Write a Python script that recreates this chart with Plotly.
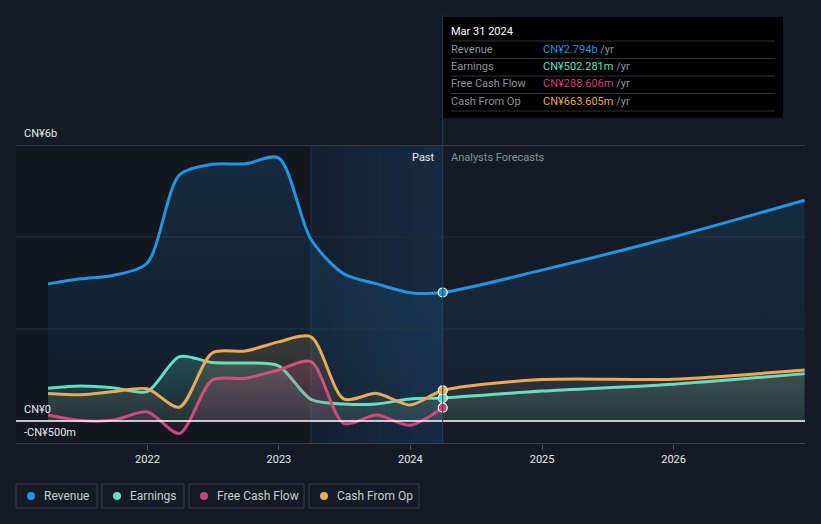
import plotly.graph_objects as go
import pandas as pd

# ---------------- data ----------------
past_dates = ["2021-03-31", "2021-06-30", "2021-09-30", "2021-12-31",
              "2022-03-31", "2022-06-30", "2022-09-30", "2022-12-31",
              "2023-03-31", "2023-06-30", "2023-09-30", "2023-12-31",
              "2024-03-31"]
fc_dates = ["2024-12-31", "2025-12-31", "2026-12-31"]

revenue_past = [2.98, 3.09, 3.17, 3.43, 5.35, 5.58, 5.59, 5.72, 3.95, 3.20, 2.98, 2.79, 2.794]
revenue_fc = [3.28, 4.00, 4.80]
earnings_past = [0.71, 0.76, 0.72, 0.64, 1.40, 1.27, 1.26, 1.20, 0.47, 0.37, 0.37, 0.48, 0.502]
earnings_fc = [0.65, 0.80, 1.03]
fcf_past = [0.13, 0.01, 0.02, 0.20, -0.27, 0.89, 0.93, 1.11, 1.29, -0.05, 0.13, -0.09, 0.289]
cfo_past = [0.60, 0.57, 0.64, 0.70, 0.30, 1.48, 1.52, 1.72, 1.83, 0.48, 0.60, 0.35, 0.664]
cfo_fc = [0.90, 0.91, 1.11]

series_names = ["Revenue", "Earnings", "Free Cash Flow", "Cash From Op"]
series_colors = ["#2394df", "#5fe0c6", "#c9457f", "#e8a95a"]
tooltip_values = ["CN¥2.794b", "CN¥502.281m", "CN¥288.606m", "CN¥663.605m"]
y_ticks = [6, 0, -0.5]
y_tick_labels = ["CN¥6b", "CN¥0", "-CN¥500m"]
x_ticks = ["2022-01-01", "2023-01-01", "2024-01-01", "2025-01-01", "2026-01-01"]
x_tick_labels = ["2022", "2023", "2024", "2025", "2026"]
past_start = "2023-03-31"
now_date = "2024-03-31"
x_range = ["2021-01-01", "2027-01-01"]
y_range = [-0.5, 6]

BG = "#151b26"
FONT = "Roboto"

def rgba(hexc, a):
    h = hexc.lstrip("#")
    r, g, b = int(h[0:2], 16), int(h[2:4], 16), int(h[4:6], 16)
    return f"rgba({r},{g},{b},{a})"

fig = go.Figure()

data = [
    (past_dates + fc_dates, revenue_past + revenue_fc, 0.16, 0.04),
    (past_dates + fc_dates, earnings_past + earnings_fc, 0.22, 0.08),
    (past_dates, fcf_past, 0.25, 0.08),
    (past_dates + fc_dates, cfo_past + cfo_fc, 0.18, 0.06),
]

for (xs, ys, atop, abot), name, col in zip(data, series_names, series_colors):
    fig.add_trace(go.Scatter(
        x=xs, y=ys, mode="lines", name=name,
        line=dict(color=col, width=3, shape="spline", smoothing=0.8),
        fill="tozeroy",
        fillgradient=dict(type="vertical",
                          colorscale=[[0, rgba(col, abot)], [1, rgba(col, atop)]]),
        hoverinfo="skip", showlegend=False,
    ))

# markers at current date
now_vals = [revenue_past[-1], earnings_past[-1], fcf_past[-1], cfo_past[-1]]
for v, col in zip(now_vals, series_colors):
    fig.add_trace(go.Scatter(
        x=[now_date], y=[v], mode="markers",
        marker=dict(color=col, size=9, line=dict(color="white", width=1.2)),
        hoverinfo="skip", showlegend=False,
    ))

shapes = []
# darker region before past year
shapes.append(dict(type="rect", xref="x", yref="paper", x0=x_range[0], x1=past_start,
                   y0=0, y1=1, fillcolor="rgba(0,0,0,0.13)", line_width=0, layer="below"))
# past-year highlight band (gradient via strips)
p0 = pd.Timestamp(past_start)
p1 = pd.Timestamp(now_date)
n = 12
for i in range(n):
    a = p0 + (p1 - p0) * i / n
    b = p0 + (p1 - p0) * (i + 1) / n
    shapes.append(dict(type="rect", xref="x", yref="paper", x0=a, x1=b, y0=0, y1=1,
                       fillcolor=f"rgba(30,110,180,{0.07 + 0.13 * i / (n - 1):.3f})",
                       line_width=0, layer="below"))
shapes.append(dict(type="line", xref="x", yref="paper", x0=past_start, x1=past_start,
                   y0=0, y1=1, line=dict(color="rgba(60,100,140,0.35)", width=1), layer="below"))
# gridlines
for gy, gc in [(6, "#4a4f58"), (4, "#262c36"), (2, "#262c36")]:
    shapes.append(dict(type="line", xref="paper", yref="y", x0=0, x1=1, y0=gy, y1=gy,
                       line=dict(color=gc, width=1), layer="below"))
shapes.append(dict(type="line", xref="paper", yref="y", x0=0, x1=1, y0=0, y1=0,
                   line=dict(color="#ffffff", width=1.5), layer="above"))
# bottom axis line
shapes.append(dict(type="line", xref="paper", yref="y", x0=0, x1=1, y0=y_range[0], y1=y_range[0],
                   line=dict(color="#4a4f58", width=1.5), layer="above"))
# now vertical line (extends into tooltip)
shapes.append(dict(type="line", xref="x", yref="paper", x0=now_date, x1=now_date,
                   y0=0, y1=1.435, line=dict(color="#24415c", width=1), layer="above"))

annotations = []
# y labels (all sit just above their value)
for v, t in zip(y_ticks, y_tick_labels):
    annotations.append(dict(x=0, xref="paper", y=v, yref="y", text=t, showarrow=False,
                            xanchor="left", yanchor="bottom",
                            xshift=6, yshift=3,
                            font=dict(family=FONT, size=11, color="#e6e8eb")))
annotations.append(dict(x=now_date, xref="x", y=1.0, yref="paper", text="Past", showarrow=False,
                        xanchor="right", yanchor="top", xshift=-6, yshift=-4,
                        font=dict(family=FONT, size=11, color="#e6e8eb")))
annotations.append(dict(x=now_date, xref="x", y=1.0, yref="paper", text="Analysts Forecasts",
                        showarrow=False, xanchor="left", yanchor="top", xshift=6, yshift=-4,
                        font=dict(family=FONT, size=11, color="#8a8f98")))

# tooltip box (pixel-based layout in paper coords)
W, H = 821, 524
L, R, T, B = 16, 16, 145, 80
pw, ph = W - L - R, H - T - B
def px(x):
    return (x - L) / pw
def py(y):
    return (H - B - y) / ph

shapes.append(dict(type="rect", xref="paper", yref="paper", x0=px(443), x1=px(783),
                   y0=py(118), y1=py(17), fillcolor="#000000", line_width=0, layer="above"))
annotations.append(dict(x=px(449), xref="paper", y=py(31), yref="paper", text="Mar 31 2024",
                        showarrow=False, xanchor="left", yanchor="middle",
                        font=dict(family=FONT, size=11, color="#ffffff")))
row_y = [49, 66.5, 84, 101.5]
for i, (nm, val, col) in enumerate(zip(series_names, tooltip_values, series_colors)):
    yy = row_y[i]
    shapes.append(dict(type="line", xref="paper", yref="paper", x0=px(451), x1=px(775),
                       y0=py(yy - 8), y1=py(yy - 8), line=dict(color="#333333", width=1),
                       layer="above"))
    annotations.append(dict(x=px(449), xref="paper", y=py(yy), yref="paper", text=nm,
                            showarrow=False, xanchor="left", yanchor="middle",
                            font=dict(family=FONT, size=11, color="#8f949b")))
    annotations.append(dict(x=px(541), xref="paper", y=py(yy), yref="paper",
                            text=f"<span style='color:{col}'>{val}</span> /yr",
                            showarrow=False, xanchor="left", yanchor="middle",
                            font=dict(family=FONT, size=11, color="#8f949b")))
shapes.append(dict(type="line", xref="paper", yref="paper", x0=px(451), x1=px(775),
                   y0=py(111), y1=py(111), line=dict(color="#333333", width=1), layer="above"))

# custom legend boxes
legend_boxes = [(16, 97), (102, 184), (189, 304), (309, 419)]
for (x0, x1), nm, col in zip(legend_boxes, series_names, series_colors):
    shapes.append(dict(type="rect", xref="paper", yref="paper", x0=px(x0), x1=px(x1),
                       y0=py(508), y1=py(484), fillcolor="rgba(0,0,0,0)",
                       line=dict(color="#3a3f48", width=1), layer="above"))
    shapes.append(dict(type="circle", xref="paper", yref="paper", x0=px(x0 + 11), x1=px(x0 + 19),
                       y0=py(500), y1=py(492), fillcolor=col, line_width=0, layer="above"))
    annotations.append(dict(x=px(x0 + 26), xref="paper", y=py(496), yref="paper", text=nm,
                            showarrow=False, xanchor="left", yanchor="middle",
                            font=dict(family=FONT, size=12, color="#c8ccd2")))

fig.update_layout(
    width=W, height=H,
    margin=dict(l=L, r=R, t=T, b=B),
    paper_bgcolor=BG, plot_bgcolor=BG,
    showlegend=False,
    xaxis=dict(type="date", range=x_range, showgrid=False, zeroline=False,
               tickvals=x_ticks, ticktext=x_tick_labels, ticks="outside", ticklen=5,
               tickcolor="#4a4f58", tickfont=dict(family=FONT, size=11, color="#e6e8eb"),
               showline=False, fixedrange=True),
    yaxis=dict(range=y_range, showgrid=False, zeroline=False, showticklabels=False,
               fixedrange=True),
    shapes=shapes, annotations=annotations,
)

fig.write_html("out.html", config={"displayModeBar": False},
               post_script="document.body.style.margin='0';document.body.style.padding='0';"
                           "document.body.style.background='#151b26';document.body.style.overflow='hidden';")
